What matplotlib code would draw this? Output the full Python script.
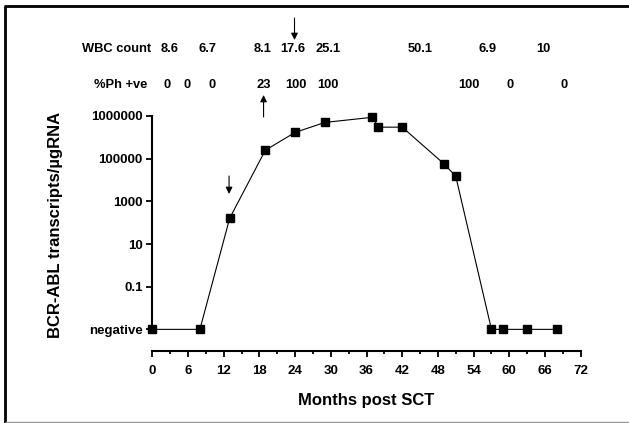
import matplotlib
matplotlib.use('Agg')
import matplotlib.pyplot as plt
import matplotlib.transforms as mtransforms
from matplotlib.lines import Line2D
from matplotlib.ticker import MultipleLocator, FixedLocator

plt.rcParams['font.family'] = ['Liberation Sans', 'DejaVu Sans']
plt.rcParams['font.weight'] = 'bold'

NEG = 1e-3  # plotted level for "negative"

# BCR-ABL transcripts per ug RNA over time
months = [0, 8, 13, 19, 24, 29, 37, 38, 42, 49, 51, 57, 59, 63, 68]
transcripts = [NEG, NEG, 160, 2.5e5, 1.7e6, 5.0e6, 8.7e6, 3.0e6, 3.0e6,
               5.8e4, 1.5e4, NEG, NEG, NEG, NEG]

ytick_vals = [NEG, 1e-1, 1e1, 1e3, 1e5, 1e7]
ytick_labels = ['negative', '0.1', '10', '1000', '100000', '1000000']

# annotation rows above the plot
wbc_months = [2.9, 9.3, 18.5, 23.6, 29.5, 45.0, 56.4, 65.7]
wbc_labels = ['8.6', '6.7', '8.1', '17.6', '25.1', '50.1', '6.9', '10']
ph_months = [2.4, 5.8, 10.1, 18.7, 24.1, 29.5, 53.3, 60.1, 69.2]
ph_labels = ['0', '0', '0', '23', '100', '100', '100', '0', '0']

W, H = 629, 423
fig = plt.figure(figsize=(W / 100, H / 100), dpi=100)
ax = fig.add_axes([152.3 / W, 1 - 350.7 / H, (580.7 - 152.3) / W, (350.7 - 116) / H])

ax.plot(months, transcripts, color='black', lw=0.8, marker='s', ms=6.2,
        mfc='black', mec='black', clip_on=False, zorder=3)

ax.set_yscale('log')
ax.set_ylim(1e-4, 1e7)
ax.set_xlim(0, 72)

ax.yaxis.set_major_locator(FixedLocator(ytick_vals))
ax.yaxis.set_minor_locator(FixedLocator([]))
ax.set_yticklabels(ytick_labels)
ax.xaxis.set_major_locator(MultipleLocator(6))
ax.xaxis.set_minor_locator(MultipleLocator(3))

for s in ['top', 'right']:
    ax.spines[s].set_visible(False)
ax.spines['left'].set_bounds(NEG, 1e7)
ax.spines['left'].set_linewidth(1.5)
ax.spines['bottom'].set_linewidth(1.5)

ax.tick_params(axis='both', which='major', direction='out', length=4, width=1.3,
               labelsize=9.5)
ax.tick_params(axis='x', which='minor', direction='out', length=2.5, width=1.3)
ax.tick_params(axis='x', pad=6)
ax.tick_params(axis='y', pad=3)

ax.set_xlabel('Months post SCT', fontsize=12, fontweight='bold', labelpad=12)
ax.set_ylabel('BCR-ABL transcripts/µgRNA', fontsize=12, fontweight='bold')
ax.yaxis.set_label_coords((63 - 152.3) / (580.7 - 152.3), (350.7 - 225) / (350.7 - 116))

trans = mtransforms.blended_transform_factory(ax.transData, fig.transFigure)

y_wbc = 1 - 49 / H
y_ph = 1 - 85 / H
fig.text(150.7 / W, y_wbc, 'WBC count', ha='right', va='center', fontsize=9.3,
         fontweight='bold')
fig.text(147.3 / W, y_ph, '%Ph +ve', ha='right', va='center', fontsize=9.3,
         fontweight='bold')
for m, lab in zip(wbc_months, wbc_labels):
    ax.text(m, y_wbc, lab, transform=trans, ha='center', va='center',
            fontsize=9.3, fontweight='bold')
for m, lab in zip(ph_months, ph_labels):
    ax.text(m, y_ph, lab, transform=trans, ha='center', va='center',
            fontsize=9.3, fontweight='bold')

arrow = dict(arrowstyle='-|>', color='black', lw=0.8, mutation_scale=10,
             shrinkA=0, shrinkB=0)
ax.annotate('', xy=(23.9, 1 - 40 / H), xytext=(23.9, 1 - 18 / H),
            xycoords=trans, textcoords=trans, arrowprops=arrow)
ax.annotate('', xy=(18.7, 1 - 95 / H), xytext=(18.7, 1 - 117 / H),
            xycoords=trans, textcoords=trans, arrowprops=arrow)
ax.annotate('', xy=(12.9, 1 - 194 / H), xytext=(12.9, 1 - 176 / H),
            xycoords=trans, textcoords=trans, arrowprops=arrow)

# frame around the figure
fig.add_artist(Line2D([5 / W, 5 / W], [0.5 / H, 1 - 6 / H], color='black', lw=2,
                      transform=fig.transFigure, solid_capstyle='butt'))
fig.add_artist(Line2D([4 / W, 1], [1 - 6 / H, 1 - 6 / H], color='black', lw=2,
                      transform=fig.transFigure, solid_capstyle='butt'))
fig.add_artist(Line2D([5 / W, 1], [1.3 / H, 1.3 / H], color='#999999', lw=1,
                      transform=fig.transFigure, solid_capstyle='butt'))

fig.savefig('out.png', dpi=100)
